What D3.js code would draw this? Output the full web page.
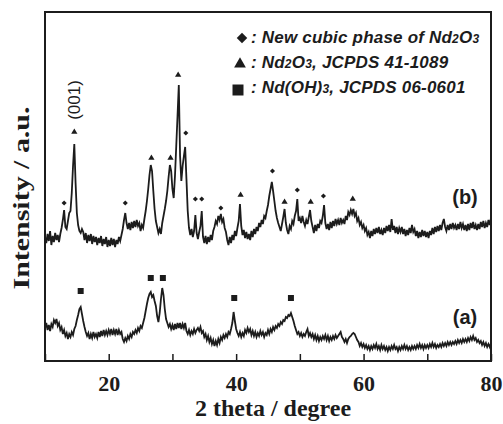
<!DOCTYPE html>
<html><head><meta charset="utf-8">
<script src="https://cdn.jsdelivr.net/npm/d3@7"></script>
<style>body{margin:0;background:#fff}</style>
</head><body>
<script>
// ---- data ----
const twoThetaStart = 10, twoThetaStep = 0.2;
const intensityB = [
124,118,127,120,130,116,125,119,128,121,
126,119,127,133,141,151,134,132,140,148,
150,168,195,217,178,148,136,130,128,132,
129,121,128,118,126,120,127,117,125,119,
124,116,123,118,125,115,122,117,124,114,
121,115,123,116,122,114,121,117,124,120,
126,132,141,148,138,132,138,131,139,133,
140,134,141,135,138,130,136,133,142,150,
160,172,186,196,190,170,152,140,134,128,
132,127,138,145,152,160,170,184,196,190,
172,163,185,215,245,276,205,180,195,205,
214,182,150,133,126,132,124,130,146,128,
122,129,135,150,124,118,125,117,124,119,
126,121,130,134,140,137,145,141,147,139,
142,133,129,121,116,124,118,126,121,130,
125,133,140,157,135,126,131,123,129,122,
127,121,130,124,132,127,134,130,138,134,
141,137,145,143,150,156,165,172,179,170,
160,150,143,138,134,130,137,144,152,138,
131,127,135,132,140,137,145,150,162,140,
143,138,145,139,135,141,137,144,151,140,
134,128,136,130,137,133,140,138,145,156,
138,132,137,131,139,133,140,135,142,137,
141,136,143,138,141,137,145,141,149,146,
151,147,152,145,148,140,143,136,139,133,
136,130,133,126,129,123,130,125,132,127,
133,128,134,127,131,126,133,128,135,130,
136,129,142,131,135,128,134,127,133,129,
134,127,132,125,131,126,133,128,136,129,
132,125,130,123,129,124,131,125,130,124,
129,123,130,126,133,127,134,129,135,130,
136,131,138,142,134,130,136,131,137,132,
138,133,136,131,137,132,139,133,137,131,
136,130,137,131,138,133,139,132,136,131,
137,132,139,134,140,133,138,134,141,136,143];
const intensityA = [
33,38,31,36,30,37,34,41,38,42,
35,38,31,34,27,31,25,28,22,27,
24,29,26,32,35,41,46,52,54,47,
40,34,29,25,28,22,27,23,29,24,
27,23,29,24,30,25,31,26,30,26,
31,27,32,26,31,27,32,26,31,27,
29,22,19,23,20,25,22,27,24,29,
27,31,28,33,30,35,33,38,43,50,
57,63,67,69,64,66,60,55,45,39,
48,62,73,66,52,42,38,34,37,32,
36,31,37,32,38,33,38,32,37,33,
38,30,27,31,26,30,27,32,28,31,
33,30,34,28,30,24,27,21,25,19,
23,17,21,15,20,16,22,18,24,21,
26,23,27,24,29,27,32,38,49,40,
32,28,25,29,24,28,25,31,28,33,
29,32,26,30,25,29,24,28,25,30,
26,29,24,28,26,31,27,32,29,34,
31,35,33,37,35,39,37,41,40,44,
43,46,45,48,44,40,35,31,27,29,
25,28,24,27,25,29,32,25,28,24,
27,22,26,21,25,20,24,21,25,22,
26,21,25,20,24,21,25,22,26,23,
25,27,29,24,22,19,22,18,22,24,
25,27,28,27,24,21,19,15,18,14,
17,13,16,12,15,11,15,12,16,13,
17,12,15,11,16,12,15,11,14,10,
14,11,15,12,16,12,14,10,14,11,
15,12,16,12,15,11,14,11,15,12,
15,12,16,13,17,13,16,12,16,13,
16,13,17,14,18,14,17,13,16,14,
17,14,18,15,18,15,19,16,19,16,
19,17,20,17,21,18,21,18,22,19,
22,19,23,20,24,21,25,21,23,19,
21,18,20,16,19,15,18,14,17,14,18];
const diamondPos    = [13.0, 22.6, 32.1, 33.6, 34.6, 37.6, 45.7, 49.6, 53.7];
const diamondHeight = [158, 158, 228, 162, 162, 153, 190, 171, 165];
const trianglePos    = [14.6, 26.7, 29.7, 30.9, 40.7, 47.6, 51.7, 58.3];
const triangleHeight = [229, 203, 203, 286, 166, 159, 159, 162];
const squarePos    = [15.6, 26.6, 28.5, 39.7, 48.6];
const squareHeight = [70, 83, 83, 63, 63];
const xTicks = [10, 20, 30, 40, 50, 60, 70, 80];
const xTickLabels = [20, 40, 60, 80];
const legendItems = [
  {sym: "diamond", parts: [[": New cubic phase of Nd", 0], ["2", 1], ["O", 0], ["3", 1]]},
  {sym: "triangle", parts: [[": Nd", 0], ["2", 1], ["O", 0], ["3", 1], [", JCPDS 41-1089", 0]]},
  {sym: "square", parts: [[": Nd(OH)", 0], ["3", 1], [", JCPDS 06-0601", 0]]}
];

// ---- chart ----
const W = 503, H = 424;
const svg = d3.select("body").append("svg").attr("width", W).attr("height", H);
const x = d3.scaleLinear().domain([10, 80]).range([45, 491]);
const y = d3.scaleLinear().domain([0, 350]).range([361, 11]);
const ink = "#1c1c1c";

const line = d3.line().x(d => x(d[0])).y(d => y(d[1]));
const toPts = arr => arr.map((v, i) => [twoThetaStart + i * twoThetaStep, v]);

[intensityB, intensityA].forEach(arr => {
  svg.append("path").datum(toPts(arr)).attr("d", line)
    .attr("fill", "none").attr("stroke", ink).attr("stroke-width", 1.8).attr("stroke-linejoin", "miter");
});

// frame
svg.append("rect").attr("x", 45).attr("y", 12).attr("width", 446).attr("height", 349)
  .attr("fill", "none").attr("stroke", ink).attr("stroke-width", 2);

// bottom axis ticks (inward)
const axis = d3.axisBottom(x).tickValues(xTicks).tickSizeInner(-7).tickSizeOuter(0)
  .tickFormat(d => xTickLabels.includes(d) ? d : "");
const gAx = svg.append("g").attr("transform", "translate(0,361)").call(axis);
gAx.select(".domain").remove();
gAx.selectAll(".tick line").attr("stroke", ink).attr("stroke-width", 1.5);
gAx.selectAll(".tick text").attr("fill", ink).attr("y", 14).attr("dy", "0.71em")
  .style("font-family", "'Liberation Serif', 'Times New Roman', serif").style("font-weight", "bold").style("font-size", "22px");

// axis titles
svg.append("text").attr("x", 273).attr("y", 416).attr("text-anchor", "middle")
  .style("font-family", "'Liberation Serif', serif").style("font-weight", "bold").style("font-size", "24px")
  .attr("fill", ink).text("2 theta / degree");
svg.append("text").attr("transform", "translate(29,198) rotate(-90)").attr("text-anchor", "middle")
  .attr("textLength", 183).attr("lengthAdjust", "spacingAndGlyphs")
  .style("font-family", "'Liberation Serif', serif").style("font-weight", "bold").style("font-size", "23px")
  .attr("fill", ink).text("Intensity / a.u.");

// peak markers
const diamondPath = d3.symbol().type(d3.symbolSquare).size(13)();
const triPath = d3.symbol().type(d3.symbolTriangle).size(17)();
const sqPath = d3.symbol().type(d3.symbolSquare).size(36)();
svg.append("g").selectAll("path").data(diamondPos).join("path")
  .attr("d", diamondPath).attr("fill", ink)
  .attr("transform", (d, i) => `translate(${x(d)},${y(diamondHeight[i])}) rotate(45)`);
svg.append("g").selectAll("path").data(trianglePos).join("path")
  .attr("d", triPath).attr("fill", ink)
  .attr("transform", (d, i) => `translate(${x(d)},${y(triangleHeight[i])})`);
svg.append("g").selectAll("path").data(squarePos).join("path")
  .attr("d", sqPath).attr("fill", ink)
  .attr("transform", (d, i) => `translate(${x(d)},${y(squareHeight[i])})`);

// (001) label
svg.append("text").attr("transform", `translate(${x(14.6) + 6},100) rotate(-90)`).attr("text-anchor", "middle")
  .style("font-family", "Arial, 'Liberation Sans', sans-serif").style("font-size", "17px")
  .attr("fill", ink).text("(001)");

// trace labels
[["(b)", 204], ["(a)", 324]].forEach(([t, yy]) => {
  svg.append("text").attr("x", 465).attr("y", yy).attr("text-anchor", "middle")
    .style("font-family", "Arial, 'Liberation Sans', sans-serif").style("font-weight", "bold").style("font-size", "20px")
    .attr("fill", ink).text(t);
});

// legend
const legSyms = {
  diamond: d3.symbol().type(d3.symbolSquare).size(55)(),
  triangle: d3.symbol().type(d3.symbolTriangle).size(60)(),
  square: d3.symbol().type(d3.symbolSquare).size(121)()
};
const legMarkX = [242, 240, 238];
const legMarkY = [38, 64, 90];
const legBase = [43, 68, 93];
legendItems.forEach((it, k) => {
  svg.append("path").attr("d", legSyms[it.sym]).attr("fill", ink)
    .attr("transform", `translate(${legMarkX[k]},${legMarkY[k]})` + (it.sym === "diamond" ? " rotate(45)" : ""));
  const t = svg.append("text").attr("x", 251).attr("y", legBase[k])
    .style("font-family", "Arial, 'Liberation Sans', sans-serif").style("font-weight", "bold")
    .style("font-style", "italic").style("font-size", "17px").style("letter-spacing", "0.2px").attr("fill", ink);
  it.parts.forEach(([s, sub]) => {
    t.append("tspan").text(s).style("font-size", sub ? "12px" : "17px");
  });
});
</script>
</body></html>
